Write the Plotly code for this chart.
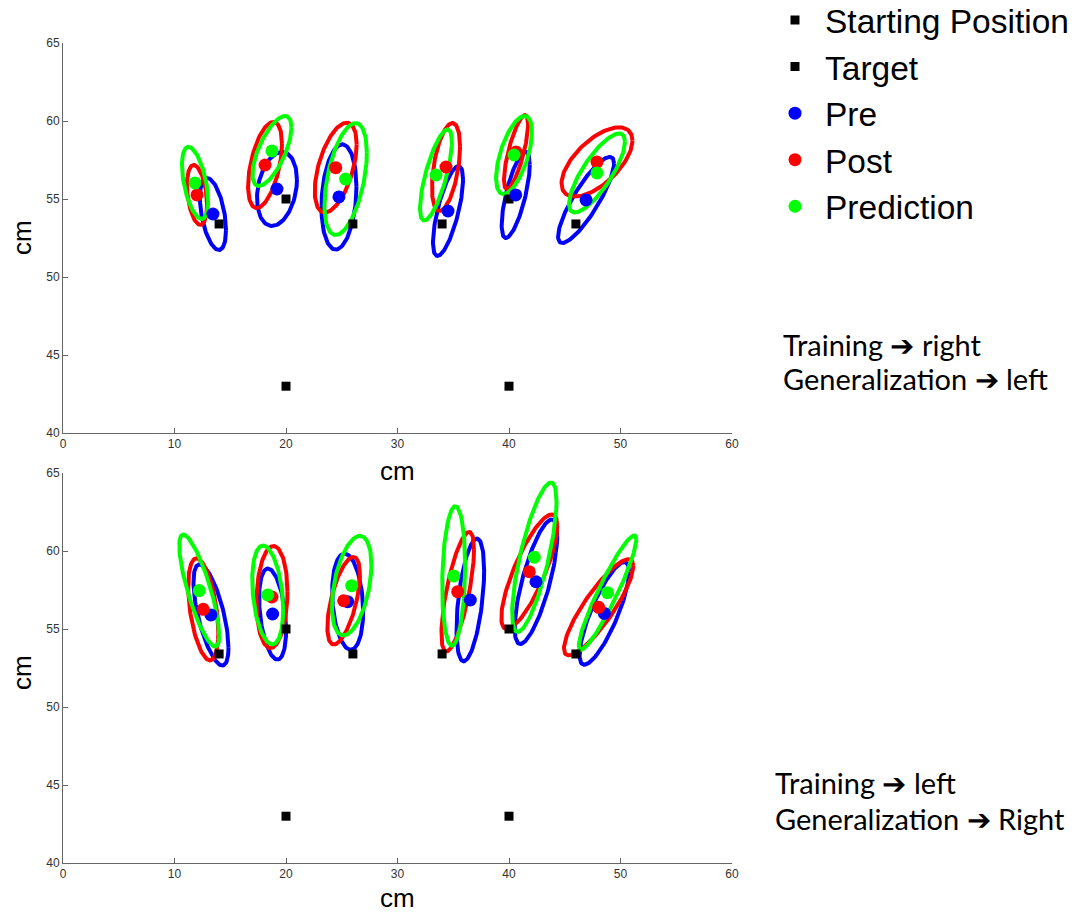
import numpy as np
import plotly.graph_objects as go

# ---------------- data (cm) ----------------
start_x = [20, 40]
start_y = [43, 43]
target_x = [14, 20, 26, 34, 40, 46]
target_y = [53.4, 55, 53.4, 53.4, 55, 53.4]

# top panel (Training -> right)
top_pre_x = [13.45, 19.19, 24.75, 34.53, 40.60, 46.91]
top_pre_y = [54.04, 55.64, 55.13, 54.23, 55.26, 54.94]
top_pre_sx = [1.17, 1.79, 1.57, 1.35, 1.26, 2.51]
top_pre_sy = [2.31, 2.37, 3.37, 2.88, 2.76, 2.76]
top_pre_rho = [-0.45, 0.25, 0.19, 0.70, 0.70, 0.85]

top_post_x = [12.02, 18.12, 24.46, 34.35, 40.63, 47.89]
top_post_y = [55.26, 57.18, 57.01, 57.05, 58.01, 57.37]
top_post_sx = [0.90, 1.52, 1.88, 1.26, 1.08, 3.18]
top_post_sy = [1.92, 2.76, 2.88, 2.82, 2.37, 2.22]
top_post_rho = [-0.33, 0.49, 0.52, 0.46, 0.75, 0.62]

top_pred_x = [11.84, 18.74, 25.35, 33.45, 40.45, 47.89]
top_pred_y = [56.03, 58.08, 56.28, 56.54, 57.82, 56.67]
top_pred_sx = [1.17, 1.75, 1.90, 1.43, 1.61, 2.51]
top_pred_sy = [2.31, 2.24, 3.59, 2.92, 2.50, 2.53]
top_pred_rho = [-0.50, 0.67, 0.47, 0.73, 0.59, 0.79]

# bottom panel (Training -> left)
bot_pre_x = [13.27, 18.80, 25.53, 36.53, 42.42, 48.55]
bot_pre_y = [55.90, 55.96, 56.75, 56.86, 58.03, 56.00]
bot_pre_sx = [1.57, 1.21, 1.39, 1.24, 1.91, 2.22]
bot_pre_sy = [3.24, 2.92, 3.08, 3.93, 3.99, 3.29]
bot_pre_rho = [-0.65, -0.35, -0.20, 0.48, 0.74, 0.81]

bot_post_x = [12.58, 18.74, 25.17, 35.40, 41.82, 48.04]
bot_post_y = [56.26, 57.05, 56.81, 57.39, 58.67, 56.39]
bot_post_sx = [1.35, 1.39, 1.46, 1.46, 2.51, 3.11]
bot_post_sy = [3.27, 3.27, 2.81, 3.83, 3.67, 3.08]
bot_post_rho = [-0.45, 0.10, 0.60, 0.70, 0.80, 0.86]

bot_pred_x = [12.22, 18.36, 25.89, 35.04, 42.27, 48.84]
bot_pred_y = [57.46, 57.18, 57.78, 58.40, 59.60, 57.33]
bot_pred_sx = [1.79, 1.39, 1.77, 1.03, 1.99, 2.58]
bot_pred_sy = [3.59, 3.17, 3.19, 4.47, 4.79, 3.67]
bot_pred_rho = [-0.80, -0.30, 0.42, 0.15, 0.75, 0.93]

x_ticks = [0, 10, 20, 30, 40, 50, 60]
y_ticks = [40, 45, 50, 55, 60, 65]

BLUE, RED, GREEN = "#0000FF", "#FF0000", "#00FF00"
FONT = "Liberation Sans"


def ellipse_path(cx, cy, sx, sy, rho):
    t = np.linspace(0, 2 * np.pi, 120)
    xs, ys = [], []
    for a, b, c, d, r in zip(cx, cy, sx, sy, rho):
        xs += list(a + c * np.cos(t)) + [None]
        ys += list(b + d * (r * np.cos(t) + np.sqrt(1 - r * r) * np.sin(t))) + [None]
    return xs, ys


fig = go.Figure()

panels = [
    ("x", "y", True,
     [(top_pre_x, top_pre_y, top_pre_sx, top_pre_sy, top_pre_rho, BLUE, "Pre"),
      (top_post_x, top_post_y, top_post_sx, top_post_sy, top_post_rho, RED, "Post"),
      (top_pred_x, top_pred_y, top_pred_sx, top_pred_sy, top_pred_rho, GREEN, "Prediction")]),
    ("x2", "y2", False,
     [(bot_pre_x, bot_pre_y, bot_pre_sx, bot_pre_sy, bot_pre_rho, BLUE, "Pre"),
      (bot_post_x, bot_post_y, bot_post_sx, bot_post_sy, bot_post_rho, RED, "Post"),
      (bot_pred_x, bot_pred_y, bot_pred_sx, bot_pred_sy, bot_pred_rho, GREEN, "Prediction")]),
]

# ellipses first
for xa, ya, _, groups in panels:
    for cx, cy, sx, sy, rho, col, name in groups:
        ex, ey = ellipse_path(cx, cy, sx, sy, rho)
        fig.add_trace(go.Scatter(x=ex, y=ey, mode="lines", line=dict(color=col, width=4),
                                 xaxis=xa, yaxis=ya, showlegend=False, hoverinfo="skip"))

# markers
for xa, ya, show, groups in panels:
    fig.add_trace(go.Scatter(x=start_x, y=start_y, mode="markers", name="Starting Position",
                             legendgroup="start", showlegend=show,
                             marker=dict(symbol="square", size=9, color="black"),
                             xaxis=xa, yaxis=ya))
    fig.add_trace(go.Scatter(x=target_x, y=target_y, mode="markers", name="Target",
                             legendgroup="target", showlegend=show,
                             marker=dict(symbol="square", size=9, color="black"),
                             xaxis=xa, yaxis=ya))
    for cx, cy, sx, sy, rho, col, name in groups:
        fig.add_trace(go.Scatter(x=cx, y=cy, mode="markers", name=name, legendgroup=name,
                                 showlegend=show, marker=dict(symbol="circle", size=13, color=col),
                                 xaxis=xa, yaxis=ya))

W, H = 1087, 914
xdom = [63 / W, 732 / W]
top_dom = [1 - 433 / H, 1 - 43 / H]
bot_dom = [1 - 863 / H, 1 - 473 / H]

axis_common = dict(showline=True, linecolor="#666666", linewidth=1, mirror=False, automargin=False,
                   ticks="inside", ticklen=5, tickcolor="#666666", showgrid=False, zeroline=False,
                   tickfont=dict(family=FONT, size=12, color="#333333"))

fig.update_layout(
    width=W, height=H, margin=dict(l=0, r=0, t=0, b=0, autoexpand=False),
    paper_bgcolor="white", plot_bgcolor="white",
    xaxis=dict(domain=xdom, anchor="y", range=[0, 60], tickvals=x_ticks, **axis_common),
    yaxis=dict(domain=top_dom, anchor="x", range=[40, 65], tickvals=y_ticks, **axis_common),
    xaxis2=dict(domain=xdom, anchor="y2", range=[0, 60], tickvals=x_ticks, **axis_common),
    yaxis2=dict(domain=bot_dom, anchor="x2", range=[40, 65], tickvals=y_ticks, **axis_common),
    legend=dict(x=765 / W, y=1.009, xanchor="left", yanchor="top", tracegroupgap=0, itemwidth=50,
                font=dict(family=FONT, size=33.5, color="black"), bgcolor="rgba(0,0,0,0)"),
    showlegend=True,
)

ann = []
for txt, x, y, rot in [("cm", 397, 471, 0), ("cm", 397, 898, 0), ("cm", 22, 238, -90), ("cm", 22, 673, -90)]:
    ann.append(dict(text=txt, x=x / W, y=1 - y / H, xref="paper", yref="paper", showarrow=False,
                    xanchor="center", yanchor="middle", textangle=rot,
                    font=dict(family=FONT, size=26, color="black")))
for txt, x, y in [("Training \u2794 right", 781, 344), ("Generalization \u2794 left", 781, 379),
                  ("Training \u2794 left", 773, 782), ("Generalization \u2794 Right", 773, 818)]:
    ann.append(dict(text=txt, x=x / W, y=1 - y / H, xref="paper", yref="paper", showarrow=False,
                    xanchor="left", yanchor="middle",
                    font=dict(family="Lato", size=29, color="black")))
fig.update_layout(annotations=ann)

fig.write_html("out.html")
